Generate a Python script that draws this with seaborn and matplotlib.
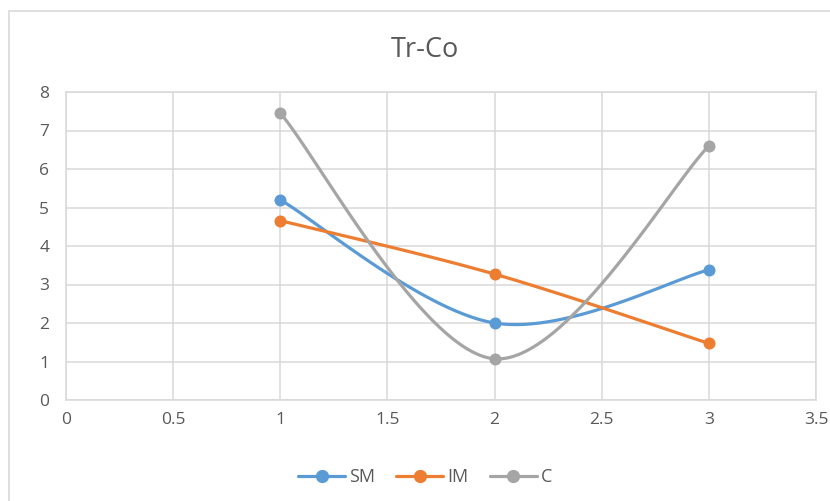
import numpy as np
import pandas as pd
import matplotlib
matplotlib.use("Agg")
import matplotlib.pyplot as plt
from matplotlib.patches import Rectangle
from matplotlib.lines import Line2D
import seaborn as sns

# ---- data ----
x_vals = [1, 2, 3]
sm_vals = [5.2, 2.0, 3.38]
im_vals = [4.66, 3.27, 1.47]
c_vals = [7.45, 1.07, 6.6]
series_names = ["SM", "IM", "C"]
series_colors = ["#5B9BD5", "#ED7D31", "#A5A5A5"]
title_text = "Tr-Co"
x_ticks = [0, 0.5, 1, 1.5, 2, 2.5, 3, 3.5]
x_tick_labels = ["0", "0.5", "1", "1.5", "2", "2.5", "3", "3.5"]
y_ticks = [0, 1, 2, 3, 4, 5, 6, 7, 8]


def smooth_curve(xs, ys, n=60):
    """Excel-style smoothed line: cubic Bezier segments through the points."""
    P = np.column_stack([xs, ys]).astype(float)
    m = len(P)
    out = []
    for i in range(m - 1):
        p0 = P[i - 1] if i > 0 else P[i]
        p1 = P[i]
        p2 = P[i + 1]
        p3 = P[i + 2] if i + 2 < m else P[i + 1]
        c1 = p1 + (p2 - p0) / 6.0
        c2 = p2 - (p3 - p1) / 6.0
        t = np.linspace(0, 1, n)[:, None]
        seg = ((1 - t) ** 3) * p1 + 3 * ((1 - t) ** 2) * t * c1 + 3 * (1 - t) * t ** 2 * c2 + t ** 3 * p2
        if i > 0:
            seg = seg[1:]
        out.append(seg)
    return np.vstack(out)


sns.set_theme(style="white")
plt.rcParams["font.family"] = ["Open Sans", "DejaVu Sans"]

fig = plt.figure(figsize=(8.30, 5.01), dpi=100)
ax = fig.add_axes([66 / 830, 1 - 400 / 501, (816 - 66) / 830, (400 - 92) / 501])

# outer chart border
fig.patches.append(Rectangle((9 / 830, -0.1), 1.2, 1 - 11 / 501 + 0.1,
                             transform=fig.transFigure, fill=False,
                             edgecolor="#D9D9D9", linewidth=1.2, zorder=0))

all_vals = [sm_vals, im_vals, c_vals]
handles = []
for name, vals, col in zip(series_names, all_vals, series_colors):
    curve = smooth_curve(x_vals, vals)
    df_curve = pd.DataFrame({"x": curve[:, 0], "y": curve[:, 1]})
    sns.lineplot(data=df_curve, x="x", y="y", sort=False, ax=ax, color=col,
                 linewidth=2.3, estimator=None, zorder=3)
    df_pts = pd.DataFrame({"x": x_vals, "y": vals})
    sns.scatterplot(data=df_pts, x="x", y="y", ax=ax, color=col, s=75,
                    edgecolor=col, linewidth=0, zorder=4)
    handles.append(Line2D([0], [0], color=col, linewidth=2.3, marker="o",
                          markersize=8.5, label=name))

ax.set_xlim(0, 3.5)
ax.set_ylim(0, 8)
ax.set_xticks(x_ticks)
ax.set_xticklabels(x_tick_labels)
ax.set_yticks(y_ticks)
ax.set_xlabel("")
ax.set_ylabel("")
ax.grid(True, color="#D9D9D9", linewidth=1.1)
ax.set_axisbelow(True)
for side in ["top", "right", "left", "bottom"]:
    ax.spines[side].set_visible(True)
    ax.spines[side].set_color("#D9D9D9")
    ax.spines[side].set_linewidth(1.1)
ax.tick_params(axis="both", length=0, labelsize=12.5, colors="#595959")
ax.tick_params(axis="y", pad=12)
ax.tick_params(axis="x", pad=9)

fig.text(425 / 830, 1 - 50 / 501, title_text, ha="center", va="center",
         fontsize=19.5, color="#595959")

fig.legend(handles=handles, loc="center", bbox_to_anchor=(425 / 830, 1 - 477 / 501),
           ncol=3, frameon=False, fontsize=13, handlelength=2.6,
           columnspacing=1.2, handletextpad=0.2, labelcolor="#595959")

fig.savefig("out.png", dpi=100)
